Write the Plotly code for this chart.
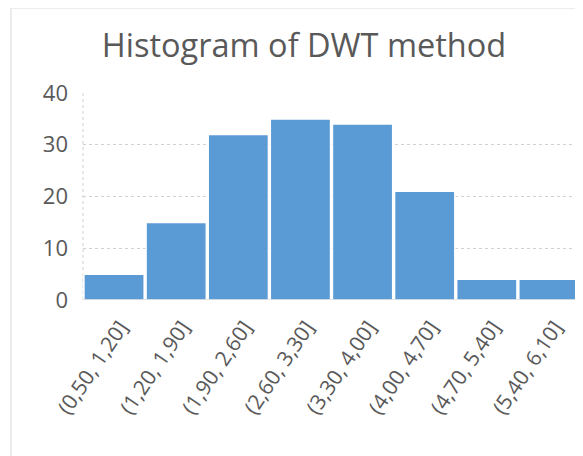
import plotly.graph_objects as go

categories = ["(0,50, 1,20]", "(1,20, 1,90]", "(1,90, 2,60]", "(2,60, 3,30]",
              "(3,30, 4,00]", "(4,00, 4,70]", "(4,70, 5,40]", "(5,40, 6,10]"]
counts = [5, 15, 32, 35, 34, 21, 4, 4]
y_ticks = [0, 10, 20, 30, 40]

# page body has an 8px margin: work in page pixels, shift by OFF
OFF = 8
W, H = 583, 456
plot_left, plot_right, plot_top, plot_bottom = 83, 580, 93, 300
L = plot_left - OFF
R = W - (plot_right - OFF)
T = plot_top - OFF
B = H - (plot_bottom - OFF)
pw, ph = W - L - R, H - T - B

fig = go.Figure(go.Bar(
    x=categories, y=counts,
    marker=dict(color="#5B9BD5", line=dict(color="white", width=1.5)),
))

def px_x(p):
    return (p - OFF - L) / pw

def px_y(p):
    return (H - B - (p - OFF)) / ph

fig.update_layout(
    width=W, height=H,
    margin=dict(l=L, r=R, t=T, b=B, autoexpand=False),
    paper_bgcolor="white", plot_bgcolor="white",
    bargap=0.03,
    showlegend=False,
    font=dict(family="Open Sans", color="#595959"),
    title=dict(text="Histogram of DWT method", x=(304 - OFF) / W, xanchor="center", xref="container",
               y=1 - (46 - OFF) / H, yanchor="middle",
               font=dict(size=32.5, color="#595959", family="Open Sans")),
    xaxis=dict(tickangle=-56, tickfont=dict(size=21, color="#595959"),
               showgrid=False, ticks="", showline=False, automargin=False,
               ticklabelstandoff=10, ticklabelshift=6),
    yaxis=dict(range=[0, 40], tickvals=y_ticks, tickfont=dict(size=22, color="#595959"),
               showgrid=True, gridcolor="#d0d0d0", griddash="dot", gridwidth=1,
               zeroline=False, ticks="", ticklabelstandoff=14, automargin=False),
    shapes=[
        dict(type="rect", xref="paper", yref="paper",
             x0=px_x(11), x1=px_x(W + 20), y0=px_y(H + 20), y1=px_y(8),
             line=dict(color="#d9d9d9", width=1), fillcolor="rgba(0,0,0,0)", layer="below"),
        dict(type="line", xref="paper", yref="paper", x0=0, x1=0, y0=0, y1=1,
             line=dict(color="#d0d0d0", width=1, dash="dot"), layer="below"),
        dict(type="line", xref="paper", yref="y", x0=0, x1=1, y0=0, y1=0,
             line=dict(color="#c8c8c8", width=1), layer="above"),
    ],
)

fig.write_html("out.html")
